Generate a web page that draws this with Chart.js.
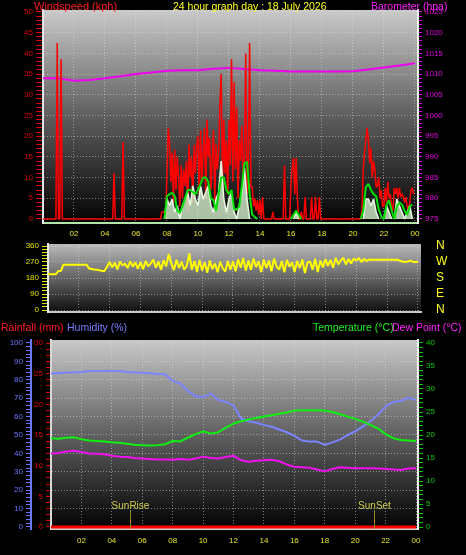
<!DOCTYPE html>
<html>
<head>
<meta charset="utf-8">
<title>24 hour graph day</title>
<script src="https://cdn.jsdelivr.net/npm/chart.js@4.4.1/dist/chart.umd.min.js"></script>
<style>
  html, body { margin: 0; padding: 0; background: #000; }
  body { width: 466px; height: 555px; position: relative; overflow: hidden; font-family: "Liberation Sans", Arial, sans-serif; }
  canvas { position: absolute; left: 0; }
  .title { position: absolute; font-size: 10.5px; line-height: 12px; white-space: nowrap; z-index: 5; }
</style>
</head>
<body>
<canvas id="chart-wind" width="466" height="240" style="top:0"></canvas>
<canvas id="chart-dir" width="466" height="88" style="top:234px"></canvas>
<canvas id="chart-climate" width="466" height="240" style="top:315px"></canvas>

<div class="title" style="left:34px;top:0;font-size:11px;color:#ff1c1c">Windspeed (kph)</div>
<div class="title" style="left:173px;top:0;color:#ffff20">24 hour graph day : 18 July 2026</div>
<div class="title" style="left:371px;top:0;color:#ff20ff">Barometer (hpa)</div>
<div class="title" style="left:1px;top:321px;color:#ff1c1c">Rainfall (mm)</div>
<div class="title" style="left:67px;top:321px;color:#7c7cff">Humidity (%)</div>
<div class="title" style="left:313px;top:321px;color:#20f020">Temperature (°C)</div>
<div class="title" style="left:392px;top:321px;color:#ff20ff">Dew Point (°C)</div>

<script>
Chart.defaults.font.family = '"Liberation Sans", Arial, sans-serif';
Chart.defaults.font.size = 8;
Chart.defaults.animation = false;

// --- Data ---
const hourTicks = [0, 2, 4, 6, 8, 10, 12, 14, 16, 18, 20, 22, 24];

// wind gust (kph), one value every 5 minutes, one row per hour
const gust = [
  0,0,0,0,0,0,0,0,0,0,0,42.5,
  0,0,38.6,0,0,0,0,0,0,0,0,0,
  0,0,0,0,0,0,0,0,0,0,0,0,
  0,0,0,0,0,0,0,0,0,0,0,0,
  0,0,0,0,0,0,0,11.1,0,0,0,0,
  0,0,18.6,0,0,0,0,0,0,0,0,0,
  0,0,0,0,0,0,0,0,0,0,0,0,
  0,0,0,0,0,0,0,0,1.7,1.7,1.7,0,
  11,22,18.6,9,16,4,16.7,7,15,10,3,13,
  5,12,8,14,2,18,10,15,4,17.9,11,17.5,
  20,6,21.5,9,16,22,5,24,15,19.6,7,14,
  21.5,4,18,12,16,28,35,8,24,11,19,6,
  24,13,38.6,9,33,12,27,5,19,14,22.5,10,
  15,40,6,14,42.5,7.7,7.7,3,5,2,4.6,1,
  4.6,0,5.3,0,0,0,0,0,0,0,1.7,0,
  0,0,0,0,0,0,0,13,0,0,0,0,
  8,12.3,14.7,6,14.7,5,0,0,1.7,0,0,5.3,
  0,0,0,0,5.3,0,0,5.3,0,0,5.3,0,
  0,0,0,0,0,0,0,0,0,0,0,0,
  0,0,0,0,0,0,0,0,0,0,0,0,
  0,0,0,0,0,0,0,2.2,12,16,19,22,
  19,13.5,17,10,14,12,7.7,8,10,5,7,3,
  3,7.5,4,9,5,6,3,2,7.5,6,7.5,5,
  7.5,5.3,6,5.3,4,5.3,3,2,4,7,7.5,6
];

// average wind speed (kph), one value every 10 minutes
const windAvg = [
  0,0,0,0,0,0,  0,0,0,0,0,0,  0,0,0,0,0,0,  0,0,0,0,0,0,
  0,0,0,0,0,0,  0,0,0,0,0,0,  0,0,0,0,0,0,  0,0,0,0,0,0,
  5.5,6,6.3,5.5,2,1.5,
  3,5,7,7,6.5,6,
  7,8.5,10,10,9,5,
  4.5,2,6,10,10,7,
  6,7,2.3,2.3,3,8,
  13.5,13.8,6,1,0.5,0,
  0,0,0,0,0,0,  0,0,0,0,0,0,
  0,1,2,1,0,0,
  0,0,0,0,0,0,  0,0,0,0,0,0,  0,0,0,0,0,0,
  0,0,0,0,2,7.7,
  8.5,7,6,5.5,2.3,0.5,
  0,3.4,4.5,2,0,3,
  4,3.5,2,1,3,3.5
];

// wind speed (kph), one value every 10 minutes
const windSpeed = [
  0,0,0,0,0,0,  0,0,0,0,0,0,  0,0,0,0,0,0,  0,0,0,0,0,0,
  0,0,0,0,0,0,  0,0,0,0,0,0,  0,0,0,0,0,0,  0,0,0,0,0,0,
  4.8,3.2,4.8,1.6,3.2,0,
  3.2,4.8,6.4,3.2,8,4.8,
  3.2,8,4.8,6.4,8,3.2,
  1.6,4.8,6.4,14,4.8,1.6,
  4.8,6.4,1.6,0,3.2,6.4,
  12.3,4.8,0,0,0,0,
  0,0,0,0,0,0,  0,0,0,0,0,0,
  0,0,1.6,0,0,0,
  0,0,0,0,0,0,  0,0,0,0,0,0,  0,0,0,0,0,0,
  0,0,0,0,0,4.8,
  4.8,3.2,4.8,1.6,0,0,
  0,3.2,1.6,0,0,4.8,
  3.2,1.6,0,1.6,3.2,0
];

// barometer (hpa), hourly 00..24
const baro = [1009.0, 1009.0, 1008.4, 1008.6, 1009.0, 1009.5, 1010.0, 1010.4, 1010.8, 1010.9,
  1010.9, 1011.3, 1011.5, 1011.2, 1010.9, 1010.8, 1010.6, 1010.6, 1010.6, 1010.6,
  1010.7, 1011.1, 1011.6, 1012.1, 1012.6];

// wind direction (degrees), one value every 10 minutes, 00:00..24:00
const windDir = [
  201,201,201,201,219,219,
  255,255,255,255,255,255,
  255,255,255,255,234,231,
  228,226,224,220,219,245,
  270,240,266,228,272,250,
  262,236,274,244,268,232,
  270,230,276,246,262,284,
  238,272,226,280,246,315,
  262,224,282,236,272,226,
  248,318,226,276,214,282,
  222,268,210,278,230,262,
  212,272,236,216,276,226,
  274,218,284,238,292,222,
  278,226,290,242,274,214,
  284,236,278,218,290,244,
  228,276,212,282,244,268,
  214,276,236,284,208,266,
  274,226,288,214,278,240,
  286,248,282,238,294,256,
  280,294,256,288,262,290,
  278,292,270,288,276,284,
  283,283,283,283,283,283,
  283,283,283,283,283,277,
  272,272,272,278,272,270,
  272
];
const dirLabels = ['N', 'E', 'S', 'W', 'N'];

// half hourly 00:00..24:00
const humidity = [83.5, 83.5, 84, 84, 84.3, 84.8, 84.8, 84.8, 84.8, 84.8, 84.3, 84, 83.8, 83.5, 83.2, 83,
  79.5, 78, 74, 71, 70.5, 72.6, 69, 68, 66, 59, 57.5, 56.7, 55.5, 54.5, 53, 51.5,
  49.5, 47, 46.4, 46.4, 44.6, 46, 47.5, 50, 52, 54.5, 57.5, 61, 65.5, 68, 68.5, 70.3, 69];
const temperature = [19.3, 19.2, 19.4, 19.5, 19.1, 18.8, 18.7, 18.6, 18.4, 18.3, 18.1, 17.9, 17.8, 17.7, 17.8, 18.0,
  18.7, 18.6, 19.4, 20.2, 20.8, 20.3, 20.6, 21.6, 22.5, 23.0, 23.4, 23.7, 24.0, 24.3, 24.6, 24.9,
  25.3, 25.4, 25.4, 25.4, 25.3, 25.0, 24.5, 24.0, 23.5, 22.9, 22.2, 21.4, 20.2, 19.3, 18.9, 18.8, 18.7];
const dewPoint = [16, 16.1, 16.4, 16.6, 16.3, 16.0, 15.9, 15.8, 15.5, 15.3, 15.2, 15.0, 14.9, 14.8, 14.7, 14.7,
  14.6, 14.8, 14.6, 14.9, 15.3, 15.0, 14.9, 15.2, 15.5, 14.5, 14.2, 14.4, 14.5, 14.6, 14.3, 13.6,
  13.1, 13.0, 12.9, 12.5, 12.1, 12.6, 13.0, 12.9, 12.8, 12.8, 12.8, 12.7, 12.6, 12.5, 12.4, 12.7, 12.8];
const rainHours = [0, 24];
const rainfall = [0, 0];

const sunTimes = [5.2, 21.25];
const sunLabels = ['SunRise', 'SunSet'];

// --- Helpers ---
const GRID = 'rgba(225,225,225,0.5)';

function range(from, to, step) {
  const out = [];
  for (let v = from; v <= to + 1e-9; v += step) out.push(Math.round(v * 100) / 100);
  return out;
}
function pts(arr, step) {
  return arr.map((v, i) => ({ x: i * step, y: v }));
}
// hide the flat zero stretches so the red gust baseline stays visible
const hideZero = { borderColor: c => (c.p0.parsed.y === 0 && c.p1.parsed.y === 0) ? 'rgba(0,0,0,0)' : undefined };

function hourAxis(max, height, pad, showLabels, borderColor) {
  return {
    type: 'linear', min: 0, max: max,
    afterBuildTicks: s => { s.ticks = hourTicks.map(v => ({ value: v })); },
    afterFit: s => { s.height = height; },
    ticks: {
      display: showLabels, color: '#e8e820', padding: pad, autoSkip: false, maxRotation: 0,
      callback: v => v === 0 ? '' : String(v % 24).padStart(2, '0')
    },
    grid: { color: GRID, drawTicks: false },
    border: { display: true, color: borderColor, width: 2, dash: [1, 2] }
  };
}

function sideAxis(o) {
  return {
    type: 'linear', position: o.position, min: o.min, max: o.max, weight: o.weight || 0,
    afterBuildTicks: s => { s.ticks = range(o.from, o.to, o.step).map(v => ({ value: v })); },
    afterFit: s => { s.width = o.width; },
    ticks: {
      color: o.color, autoSkip: false, padding: o.pad,
      font: { size: o.fontSize || 8 },
      callback: o.label || (v => (Math.abs(v % o.major) < 1e-6 ? v : ''))
    },
    grid: {
      drawOnChartArea: !!o.grid,
      color: c => (o.grid && c.tick && Math.abs(c.tick.value % o.major) < 1e-6) ? o.grid : 'rgba(0,0,0,0)',
      tickColor: o.tickColor || o.color, tickLength: o.tickLen, drawTicks: true
    },
    border: { display: !!o.border, color: o.border || '#000', width: 2, dash: [1, 2] }
  };
}

const panelBg = {
  id: 'panelBg',
  beforeDraw(chart, args, opts) {
    const { ctx, chartArea: a } = chart;
    const g = ctx.createLinearGradient(0, a.top, 0, a.bottom);
    opts.stops.forEach(s => g.addColorStop(s[0], s[1]));
    ctx.save();
    ctx.fillStyle = g;
    ctx.fillRect(a.left, a.top, a.right - a.left, a.bottom - a.top);
    ctx.restore();
  }
};

const sunMarks = {
  id: 'sunMarks',
  afterDatasetsDraw(chart) {
    const { ctx } = chart;
    const x = chart.scales.x, y = chart.scales.yh;
    const y0 = y.getPixelForValue(0);
    ctx.save();
    sunTimes.forEach((t, i) => {
      const px = Math.round(x.getPixelForValue(t)) + 0.5;
      ctx.strokeStyle = '#8c8c24';
      ctx.lineWidth = 1;
      ctx.beginPath();
      ctx.moveTo(px, y0 + 2);
      ctx.lineTo(px, y0 - 17);
      ctx.stroke();
      ctx.fillStyle = '#cccc50';
      ctx.font = '10px "Liberation Sans", Arial, sans-serif';
      ctx.textAlign = 'center';
      ctx.textBaseline = 'alphabetic';
      ctx.fillText(sunLabels[i], px, y0 - 18);
    });
    ctx.restore();
  }
};

const baseOptions = {
  responsive: false,
  elements: { point: { radius: 0 }, line: { tension: 0, borderJoinStyle: 'bevel' } },
  events: []
};

// --- Wind speed / barometer ---
new Chart(document.getElementById('chart-wind'), {
  type: 'line',
  data: {
    datasets: [
      { data: pts(windAvg, 1 / 6), borderColor: '#00e000', borderWidth: 2, yAxisID: 'y', order: 0, segment: hideZero },
      { data: pts(windSpeed, 1 / 6), borderColor: '#e4f6de', backgroundColor: 'rgba(214,240,206,0.8)', fill: 'origin',
        borderWidth: 1.6, yAxisID: 'y', order: 1, segment: hideZero },
      { data: pts(gust, 1 / 12), borderColor: '#ff0000', borderWidth: 1.5, yAxisID: 'y', order: 2 },
      { data: pts(baro, 1), borderColor: '#f000f0', borderWidth: 2, yAxisID: 'yb', order: 3 }
    ]
  },
  options: {
    ...baseOptions,
    layout: { padding: { top: 10 } },
    plugins: {
      legend: { display: false }, tooltip: { enabled: false }, filler: { propagate: false },
      panelBg: { stops: [[0, '#cacaca'], [0.5, '#5e5e5e'], [1, '#020202']] }
    },
    scales: {
      x: hourAxis(24.2, 17, 6, true, '#b4e4aa'),
      y: sideAxis({ position: 'left', min: -0.97, max: 50.48, from: 0, to: 50, step: 1, major: 5,
        width: 43, color: '#e00000', tickLen: 7, pad: 3, grid: GRID, border: '#e8e8e8' }),
      yb: sideAxis({ position: 'right', min: 974.03, max: 1025.48, from: 975, to: 1025, step: 1, major: 5,
        width: 48, color: '#e000e0', tickLen: 4, pad: 3, border: '#f4f4f4' })
    }
  },
  plugins: [panelBg]
});

// --- Wind direction ---
new Chart(document.getElementById('chart-dir'), {
  type: 'line',
  data: {
    datasets: [
      { data: pts(windDir, 1 / 6), borderColor: '#ffff00', borderWidth: 2, yAxisID: 'y' }
    ]
  },
  options: {
    ...baseOptions,
    layout: { padding: { top: 10 } },
    plugins: {
      legend: { display: false }, tooltip: { enabled: false },
      panelBg: { stops: [[0, '#bababa'], [1, '#0e0e0e']] }
    },
    scales: {
      x: hourAxis(24.2, 10, 0, false, '#c8c8c8'),
      y: sideAxis({ position: 'left', min: -11.25, max: 371.25, from: 0, to: 360, step: 18, major: 90,
        width: 48, color: '#e0e000', tickLen: 6, pad: 3, grid: GRID, border: '#e8e8e8' }),
      yd: sideAxis({ position: 'right', min: -11.25, max: 371.25, from: 0, to: 360, step: 90, major: 90,
        width: 45, color: '#ffff20', tickColor: 'rgba(0,0,0,0)', tickLen: 13, pad: 2, fontSize: 12,
        label: v => dirLabels[Math.round(v / 90)] })
    }
  },
  plugins: [panelBg]
});

// --- Rain / humidity / temperature / dew point ---
new Chart(document.getElementById('chart-climate'), {
  type: 'line',
  data: {
    datasets: [
      { data: rainHours.map((h, i) => ({ x: h, y: rainfall[i] })), borderColor: '#ff0000', borderWidth: 3, yAxisID: 'yr', order: 3 },
      { data: pts(humidity, 0.5), borderColor: '#7c84ff', borderWidth: 2, yAxisID: 'yh', order: 2 },
      { data: pts(temperature, 0.5), borderColor: '#10f010', borderWidth: 2, yAxisID: 'yt', order: 1 },
      { data: pts(dewPoint, 0.5), borderColor: '#f010f0', borderWidth: 2, yAxisID: 'yt', order: 0 }
    ]
  },
  options: {
    ...baseOptions,
    layout: { padding: { top: 25 } },
    plugins: {
      legend: { display: false }, tooltip: { enabled: false },
      panelBg: { stops: [[0, '#c8c8c8'], [0.5, '#606060'], [1, '#020202']] }
    },
    scales: {
      x: hourAxis(24.13, 26, 7, true, '#d0d0d0'),
      yr: sideAxis({ position: 'left', weight: 0, min: -0.33, max: 30.49, from: 0, to: 30, step: 1, major: 5,
        width: 20, color: '#e00000', tickLen: 5, pad: 3, border: '#d8d8d8' }),
      yh: sideAxis({ position: 'left', weight: 1, min: -1.09, max: 101.63, from: 0, to: 100, step: 2, major: 10,
        width: 31, color: '#6a78ff', tickLen: 5, pad: 3, grid: GRID, border: '#6a78ff' }),
      yt: sideAxis({ position: 'right', min: -0.43, max: 40.65, from: 0, to: 40, step: 1, major: 5,
        width: 48, color: '#00d000', tickLen: 5, pad: 3, border: '#f4f4f4' })
    }
  },
  plugins: [panelBg, sunMarks]
});
</script>
</body>
</html>
